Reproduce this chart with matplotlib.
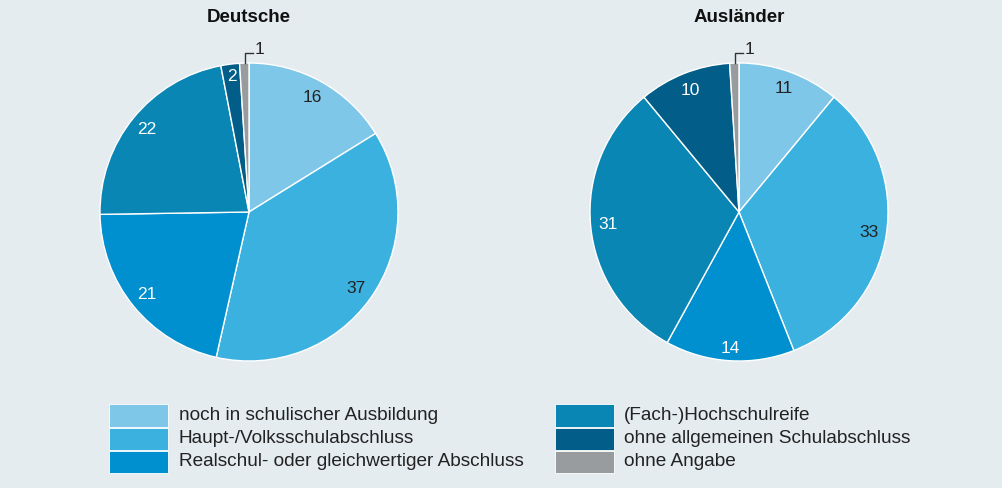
import matplotlib
matplotlib.use("Agg")
import matplotlib.pyplot as plt
from matplotlib.patches import Rectangle

plt.rcParams['font.family'] = ['Liberation Sans', 'DejaVu Sans']

# Daten (Prozent)
kategorien = ['noch in schulischer Ausbildung', 'Haupt-/Volksschulabschluss',
              'Realschul- oder gleichwertiger Abschluss', '(Fach-)Hochschulreife',
              'ohne allgemeinen Schulabschluss', 'ohne Angabe']
deutsche = [16, 37, 21, 22, 2, 1]
auslaender = [11, 33, 14, 31, 10, 1]
farben = ['#7fc7e8', '#3bb1e0', '#008fcf', '#0986b3', '#025e88', '#999c9e']
textfarben = ['#222222', '#222222', 'white', 'white', 'white', '#222222']
bg = '#e4ecf0'

W, H = 1002, 488
fig = plt.figure(figsize=(W / 100, H / 100), dpi=100)
fig.patch.set_facecolor(bg)

def torte(cx, cy, r, werte, titel):
    ax = fig.add_axes([(cx - r) / W, 1 - (cy + r) / H, 2 * r / W, 2 * r / H])
    ax.set_facecolor(bg)
    wedges, texte = ax.pie(werte, colors=farben, startangle=90, counterclock=False,
                           labels=[str(v) if v > 1 else '' for v in werte],
                           labeldistance=0.88, radius=1,
                           wedgeprops=dict(edgecolor='white', linewidth=1),
                           textprops=dict(fontsize=12.5, ha='center', va='center'))
    for t, c in zip(texte, textfarben):
        t.set_color(c)
    ax.set_xlim(-1, 1)
    ax.set_ylim(-1, 1)
    ax.set_aspect('equal')
    ax.axis('off')
    # Beschriftung "1" mit Winkel
    ax.plot([-0.027, -0.027, 0.025], [1.0, 1.07, 1.07], color='#333333', lw=1, clip_on=False)
    ax.text(0.035, 1.09, '1', fontsize=12.5, color='#222222', ha='left', va='center')
    fig.text(cx / W, 1 - 18 / H, titel, fontsize=13.5, fontweight='bold',
             ha='center', va='center', color='#111111')
    return texte

t1 = torte(249, 212, 149, deutsche, 'Deutsche')
t2 = torte(739, 212, 149, auslaender, 'Ausländer')
# kleine Segmente etwas weiter außen beschriften
for t in (t1[4], t2[2]):
    x, y = t.get_position()
    t.set_position((x * 1.04, y * 1.04))

# Legende
zeilen_y = [404, 427.5, 450.5]
for i, (name, farbe) in enumerate(zip(kategorien, farben)):
    spalte = i // 3
    px = [109, 555][spalte]
    tx = [179, 624][spalte]
    y0 = zeilen_y[i % 3]
    fig.patches.append(Rectangle((px / W, 1 - (y0 + 22.5) / H), 59 / W, 22.5 / H,
                                 transform=fig.transFigure, facecolor=farbe,
                                 edgecolor='white', linewidth=0.6))
    fig.text(tx / W, 1 - (y0 + 11) / H, name, fontsize=13.7, color='#222222',
             ha='left', va='center')

fig.savefig('out.png', dpi=100, facecolor=bg)
